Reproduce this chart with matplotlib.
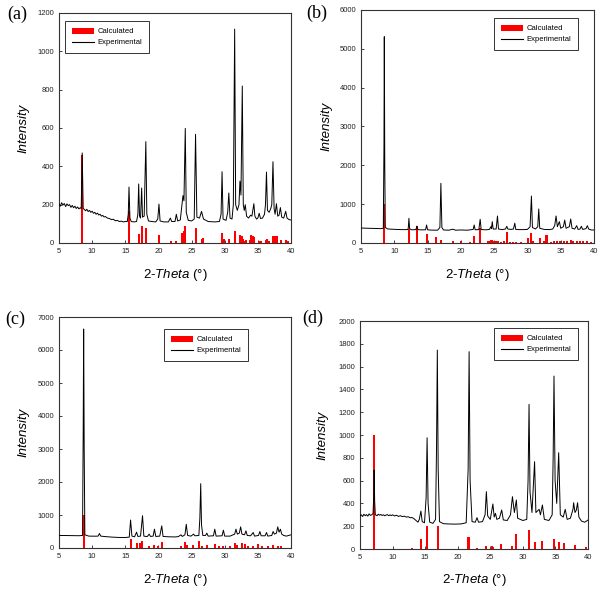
import matplotlib
matplotlib.use("Agg")
import matplotlib.pyplot as plt
from matplotlib.patches import Patch
from matplotlib.lines import Line2D

plt.rcParams['font.family'] = ['Liberation Sans', 'DejaVu Sans']
plt.rcParams['mathtext.fontset'] = 'custom'
plt.rcParams['mathtext.it'] = 'Liberation Sans:italic'
plt.rcParams['mathtext.rm'] = 'Liberation Sans'

# ---------------- data ----------------
x_ticks = [5, 10, 15, 20, 25, 30, 35, 40]

# (a)
a_exp_x = [5.0, 5.2, 5.4, 5.6, 5.8, 6.0, 6.2, 6.4, 6.6, 6.8, 7.0, 7.2, 7.4, 7.6, 7.8, 8.0, 8.2, 8.35, 8.5, 8.65,
           8.8, 9.0, 9.2, 9.4, 9.6, 9.8, 10.0, 10.2, 10.4, 10.6, 10.8, 11.0, 11.2, 11.4, 11.6, 11.8, 12.0, 12.3,
           12.6, 12.9, 13.2, 13.5, 13.8, 14.1, 14.4, 14.7, 15.0, 15.3, 15.45, 15.56, 15.7, 15.9, 16.3, 16.7, 16.9,
           17.02, 17.15, 17.3, 17.47, 17.6, 17.85, 18.1, 18.25, 18.5, 19.0, 19.6, 19.9, 20.08, 20.25, 20.8, 21.5,
           21.8, 22.0, 22.5, 22.7, 22.9, 23.3, 23.55, 23.7, 23.85, 24.05, 24.2, 24.5, 25.0, 25.4, 25.6, 25.8, 26.2,
           26.5, 26.8, 27.5, 28.5, 29.2, 29.45, 29.6, 29.75, 30.2, 30.45, 30.62, 30.8, 31.1, 31.3, 31.5, 31.65,
           31.9, 32.15, 32.3, 32.45, 32.65, 32.8, 32.95, 33.1, 33.3, 33.6, 33.9, 34.1, 34.4, 34.55, 34.8, 35.0,
           35.2, 35.4, 35.7, 36.0, 36.15, 36.3, 36.45, 36.7, 36.95, 37.1, 37.28, 37.45, 37.6, 37.8, 38.0, 38.2,
           38.4, 38.6, 38.9, 39.2, 39.4, 39.7, 40.0]
a_exp_y = [205, 192, 210, 198, 206, 190, 204, 195, 200, 186, 196, 184, 192, 180, 188, 178, 184, 180, 470, 180,
           176, 168, 176, 164, 170, 160, 166, 155, 160, 150, 156, 146, 150, 140, 144, 136, 138, 130,
           128, 122, 124, 116, 118, 112, 114, 110, 112, 112, 150, 292, 130, 112, 110, 112, 150,
           308, 140, 130, 287, 135, 140, 529, 150, 115, 112, 110, 125, 203, 115, 110, 110,
           130, 112, 112, 150, 115, 120, 200, 247, 220, 598, 160, 118, 115, 125, 567, 135, 130,
           165, 125, 112, 110, 112, 150, 372, 125, 118, 160, 261, 130, 125, 200, 1116, 200,
           170, 200, 323, 250, 819, 200, 170, 200, 140, 130, 145, 140, 205, 140, 125, 130,
           155, 128, 130, 150, 200, 370, 170, 160, 180, 200, 424, 180, 150, 205, 140, 145,
           185, 135, 130, 165, 130, 122, 120]
a_calc_x = [8.52, 15.56, 17.02, 17.52, 18.12, 20.08, 21.84, 22.7, 23.55, 23.8, 24.05, 25.6, 26.52, 26.67,
            29.58, 29.84, 30.64, 31.5, 32.35, 32.55, 32.75, 32.95, 33.15, 33.8, 34.0, 34.2, 34.4, 35.22,
            35.47, 36.22, 36.42, 36.72, 37.23, 37.58, 37.88, 38.48, 39.19, 39.49]
a_calc_y = [460, 167, 47, 90, 80, 42, 10, 12, 50, 65, 90, 80, 22, 28,
            52, 20, 20, 65, 40, 35, 22, 12, 16, 16, 42, 36, 30, 12,
            12, 17, 20, 12, 36, 36, 34, 15, 17, 10]
a_yticks = [0, 200, 400, 600, 800, 1000, 1200]

# (b)
b_exp_x = [5.0, 6.0, 7.0, 8.0, 8.35, 8.45, 8.5, 8.57, 8.65, 9.0, 10.0, 11.0, 12.0, 12.1, 12.2, 12.3, 12.6,
           13.25, 13.4, 13.55, 14.0, 14.7, 14.85, 15.0, 15.5, 16.5, 16.85, 17.0, 17.15, 17.4, 18.2, 18.8, 19.2,
           20.0, 21.0, 21.85, 22.0, 22.15, 22.7, 22.9, 23.05, 23.8, 24.3, 24.5, 24.6, 24.72, 24.85, 25.3, 25.5,
           25.65, 26.2, 26.7, 26.9, 27.05, 27.5, 27.9, 28.1, 28.25, 28.8, 29.5, 30.0, 30.4, 30.6, 30.75, 31.2,
           31.55, 31.7, 31.85, 32.5, 33.3, 33.8, 34.1, 34.3, 34.5, 34.8, 35.0, 35.4, 35.6, 35.8, 36.3, 36.5,
           36.7, 37.1, 37.4, 37.6, 37.9, 38.1, 38.3, 38.8, 39.0, 39.2, 39.6, 40.0]
b_exp_y = [385, 380, 375, 370, 380, 2500, 5313, 2000, 400, 362, 352, 345, 345, 380, 636, 370, 340,
           345, 437, 345, 338, 340, 464, 340, 332, 330, 400, 1537, 400, 335, 330, 355, 330,
           335, 330, 350, 464, 340, 345, 610, 345, 340, 350, 420, 370, 550, 360, 360, 695,
           360, 345, 360, 430, 360, 350, 360, 510, 350, 345, 345, 350, 420, 1210, 400, 360,
           420, 875, 380, 350, 345, 360, 450, 695, 420, 550, 380, 420, 590, 380, 420, 618,
           380, 360, 446, 350, 360, 430, 350, 370, 446, 360, 335, 335]
b_calc_x = [8.5, 12.2, 13.4, 14.85, 16.2, 17.0, 18.8, 20.0, 21.3, 22.0, 22.9, 24.1, 24.3, 24.5, 24.7, 25.0,
            25.3, 25.6, 26.0, 26.5, 26.9, 27.4, 27.8, 28.3, 29.0, 30.1, 30.5, 30.9, 31.9, 32.5, 32.8, 33.0,
            33.5, 34.0, 34.5, 34.9, 35.5, 36.0, 36.5, 36.9, 37.4, 37.9, 38.4, 39.0, 39.6]
b_calc_y = [1004, 352, 429, 224, 146, 77, 51, 51, 34, 180, 395, 40, 60, 70, 70, 55,
            50, 40, 35, 45, 283, 35, 30, 25, 20, 129, 250, 51, 120, 60, 200, 214,
            30, 40, 60, 55, 40, 50, 70, 50, 45, 40, 45, 40, 35]
b_yticks = [0, 1000, 2000, 3000, 4000, 5000, 6000]

# (c)
c_exp_x = [5.0, 6.0, 7.0, 8.0, 8.55, 8.65, 8.72, 8.8, 8.9, 9.5, 10.5, 10.9, 11.1, 11.3, 12.0, 13.0, 14.0,
           15.0, 15.6, 15.8, 16.0, 16.4, 16.7, 16.9, 17.3, 17.6, 17.8, 18.3, 18.6, 18.8, 19.2, 19.4, 19.6,
           20.2, 20.5, 20.7, 21.5, 22.5, 23.0, 23.4, 23.6, 24.0, 24.2, 24.4, 24.9, 25.3, 25.5, 26.1, 26.25,
           26.38, 26.5, 26.7, 27.1, 27.3, 27.5, 28.3, 28.5, 28.7, 29.6, 29.8, 30.0, 30.8, 31.5, 31.7, 31.9,
           32.2, 32.4, 32.6, 33.0, 33.2, 33.4, 33.9, 34.3, 34.5, 35.1, 35.3, 35.5, 36.1, 36.3, 36.5, 37.1,
           37.3, 37.5, 37.8, 38.0, 38.2, 38.4, 38.6, 38.9, 39.3, 40.0]
c_exp_y = [380, 378, 375, 372, 380, 3500, 6636, 3000, 400, 360, 358, 360, 440, 360, 345, 330, 320,
           318, 330, 848, 360, 340, 480, 350, 360, 979, 360, 345, 420, 350, 360, 570, 350,
           360, 670, 350, 340, 335, 345, 400, 350, 400, 718, 380, 360, 420, 370, 380, 900,
           1949, 700, 380, 380, 450, 360, 370, 570, 360, 370, 540, 360, 360, 420, 570, 420,
           450, 640, 420, 400, 520, 380, 370, 470, 360, 380, 500, 370, 370, 470, 360, 380,
           500, 420, 450, 640, 480, 570, 420, 380, 360, 400]
c_calc_x = [8.72, 15.81, 16.82, 17.22, 17.57, 18.62, 19.38, 19.88, 20.49, 23.35, 24.0, 24.36, 25.26, 26.17,
            26.52, 27.27, 28.48, 29.08, 29.79, 30.79, 31.55, 31.9, 32.55, 33.05, 33.46, 34.31, 35.07, 35.57,
            36.47, 37.33, 37.98, 38.49]
c_calc_y = [1000, 283, 141, 162, 222, 60, 101, 71, 192, 71, 172, 101, 101, 222,
            50, 101, 111, 50, 71, 50, 141, 101, 162, 111, 71, 60, 111, 71,
            71, 101, 50, 60]
c_yticks = [0, 1000, 2000, 3000, 4000, 5000, 6000, 7000]

# (d)
d_exp_x = [5.0, 5.2, 5.4, 5.6, 5.8, 6.0, 6.2, 6.4, 6.6, 6.8, 7.0, 7.1, 7.17, 7.25, 7.35, 7.6, 7.8, 8.0, 8.2,
           8.4, 8.6, 8.8, 9.0, 9.2, 9.4, 9.6, 9.8, 10.0, 10.3, 10.6, 10.9, 11.2, 11.5, 11.8, 12.1, 12.4, 12.7,
           13.0, 13.3, 13.6, 13.9, 14.1, 14.35, 14.55, 14.9, 15.15, 15.3, 15.45, 15.7, 16.2, 16.6, 16.75,
           16.87, 17.0, 17.2, 17.8, 18.5, 19.5, 20.5, 21.3, 21.6, 21.75, 21.9, 22.2, 22.7, 22.96, 23.2, 23.8,
           24.2, 24.4, 24.6, 25.0, 25.4, 25.6, 25.8, 26.0, 26.4, 26.75, 27.0, 27.6, 28.1, 28.4, 28.7, 29.0,
           29.2, 30.0, 30.6, 30.8, 30.95, 31.1, 31.4, 31.8, 32.0, 32.5, 32.7, 33.0, 33.3, 34.0, 34.5, 34.65,
           34.78, 34.95, 35.2, 35.5, 35.75, 36.2, 36.5, 36.8, 37.3, 37.7, 37.8, 38.0, 38.2, 38.4, 38.6, 39.0,
           39.5, 40.0]
d_exp_y = [290, 300, 285, 305, 292, 302, 288, 308, 295, 300, 310, 450, 693, 420, 300, 292, 305, 296, 303,
           294, 300, 291, 298, 302, 292, 299, 293, 300, 290, 296, 286, 292, 284, 288, 280, 283, 274,
           276, 265, 250, 235, 260, 333, 240, 230, 450, 976, 400, 235, 225, 260, 900,
           1745, 700, 240, 222, 220, 218, 220, 230, 700, 1731, 600, 240, 235, 275, 235, 240,
           300, 503, 290, 260, 395, 280, 313, 260, 270, 342, 255, 250, 300, 459, 320, 430,
           270, 250, 260, 600, 1269, 500, 320, 766, 320, 348, 300, 386, 260, 250, 300, 800,
           1517, 600, 400, 845, 300, 280, 348, 260, 270, 350, 406, 320, 340, 406, 280, 245,
           235, 254]
d_calc_x = [7.15, 13.05, 14.31, 15.34, 16.92, 21.53, 21.79, 22.96, 24.34, 25.22, 25.47, 26.6, 28.39, 29.0,
            30.95, 31.87, 32.89, 34.73, 35.5, 36.37, 38.01, 39.7]
d_calc_y = [1000, 10, 88, 202, 202, 102, 102, 10, 30, 25, 18, 45, 30, 131,
            166, 60, 70, 88, 58, 50, 38, 20]
d_yticks = [0, 200, 400, 600, 800, 1000, 1200, 1400, 1600, 1800, 2000]

legend_labels = ["Calculated", "Experimental"]
panel_labels = ["(a)", "(b)", "(c)", "(d)"]
x_label = r"$\mathit{2}$-$\mathit{Theta}$ (°)"
y_label = "Intensity"

# ---------------- layout ----------------
W, H = 600, 593
fig = plt.figure(figsize=(W / 100, H / 100), dpi=100)


def fx(px):
    return px / W


def fy(py):
    return 1 - py / H


panels = [
    dict(box=(59, 13, 291, 243), ex=a_exp_x, ey=a_exp_y, cx=a_calc_x, cy=a_calc_y, yt=a_yticks,
         leg=(65, 21), lab=(7, 14), ylx=23, xly=275),
    dict(box=(361, 10, 594, 243), ex=b_exp_x, ey=b_exp_y, cx=b_calc_x, cy=b_calc_y, yt=b_yticks,
         leg=(494, 18), lab=(306, 13), ylx=326, xly=275),
    dict(box=(59, 317, 291, 548), ex=c_exp_x, ey=c_exp_y, cx=c_calc_x, cy=c_calc_y, yt=c_yticks,
         leg=(164, 329), lab=(5, 319), ylx=23, xly=580),
    dict(box=(360, 321, 588, 549), ex=d_exp_x, ey=d_exp_y, cx=d_calc_x, cy=d_calc_y, yt=d_yticks,
         leg=(494, 328), lab=(302, 318), ylx=322, xly=580),
]

edge = '#333333'
for i, p in enumerate(panels):
    l, t, r, b = p['box']
    ax = fig.add_axes([fx(l), fy(b), fx(r) - fx(l), (b - t) / H])
    ax.bar(p['cx'], p['cy'], width=0.3, color='#ff0000', linewidth=0, zorder=2)
    ax.plot(p['ex'], p['ey'], color='black', lw=0.7, zorder=3)
    ax.set_xlim(5, 40)
    ax.set_ylim(p['yt'][0], p['yt'][-1])
    ax.set_xticks(x_ticks)
    ax.set_yticks(p['yt'])
    ax.tick_params(direction='in', length=2.2, width=0.6, labelsize=5.5, pad=3.5, colors='#222222')
    for s in ax.spines.values():
        s.set_color(edge)
        s.set_linewidth(0.8)
    handles = [Patch(facecolor='#ff0000', edgecolor='none'), Line2D([], [], color='black', lw=0.8)]
    leg = ax.legend(handles, legend_labels, loc='upper left',
                    bbox_to_anchor=(fx(p['leg'][0]), fy(p['leg'][1])), bbox_transform=fig.transFigure,
                    borderaxespad=0, fontsize=5.5, frameon=True, fancybox=False, framealpha=1,
                    edgecolor=edge, borderpad=0.9, handlelength=2.85, handleheight=0.8,
                    handletextpad=0.55, labelspacing=0.45)
    leg.get_frame().set_linewidth(0.7)
    fig.text(fx(p['lab'][0]), fy(p['lab'][1]), panel_labels[i], fontsize=13,
             family=['Liberation Serif', 'DejaVu Serif'], ha='left', va='center')
    fig.text(fx(p['ylx']), fy((t + b) / 2), y_label, rotation=90, fontsize=9.5, style='italic',
             ha='center', va='center')
    fig.text(fx((l + r) / 2), fy(p['xly']), x_label, fontsize=9.5, ha='center', va='center')

fig.savefig('out.png', dpi=100, facecolor='white')
